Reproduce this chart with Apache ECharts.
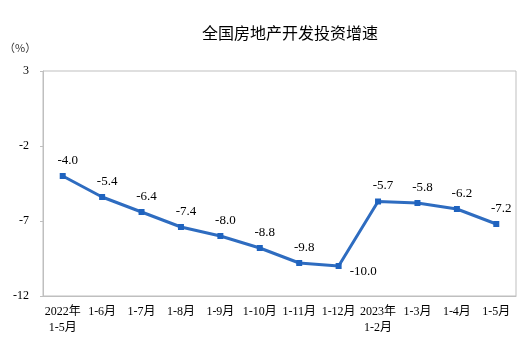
<!DOCTYPE html>
<html><head><meta charset="utf-8">
<script src="https://cdn.jsdelivr.net/npm/echarts@6/dist/echarts.min.js"></script>
<style>html,body{margin:0;padding:0;background:#fff}#c{width:531px;height:349px}</style>
</head><body><div id="c"></div>
<script>
const titleText = '全国房地产开发投资增速';
const unitLabel = '（%）';
const categories = ['2022年\n1-5月','1-6月','1-7月','1-8月','1-9月','1-10月','1-11月','1-12月','2023年\n1-2月','1-3月','1-4月','1-5月'];
const values = [-4.0,-5.4,-6.4,-7.4,-8.0,-8.8,-9.8,-10.0,-5.7,-5.8,-6.2,-7.2];
const yTicks = [-12,-7,-2,3];

const serif = '"Liberation Serif","Noto Sans CJK SC",serif';
const chart = echarts.init(document.getElementById('c'));
const seriesData = values.map((v,i)=>{
  const d = {value: v};
  if (i === 7) d.label = {position: 'right', offset: [2, 6]};
  return d;
});
chart.setOption({
  animation: false,
  title: {text: titleText, left: 285, top: 20, textAlign: 'center',
    textStyle: {fontFamily: '"Noto Sans CJK SC",sans-serif', fontSize: 16, fontWeight: 'normal', color: '#000'}},
  graphic: [{type: 'text', left: 4, top: 42, style: {text: unitLabel, font: '11px "Noto Sans CJK SC"', fill: '#333'}}],
  grid: {left: 43, right: 15, top: 71, bottom: 53, show: true, borderColor: '#bfbfbf', borderWidth: 1},
  xAxis: {type: 'category', data: categories, boundaryGap: true,
    axisLine: {onZero: false, lineStyle: {color: '#bfbfbf'}},
    axisTick: {inside: true, length: 4, lineStyle: {color: '#bfbfbf'}},
    axisLabel: {interval: 0, color: '#000', fontFamily: serif, fontSize: 12, lineHeight: 16, margin: 8}},
  yAxis: {type: 'value', min: yTicks[0], max: yTicks[yTicks.length-1], interval: 5,
    splitLine: {show: false},
    axisLine: {show: true, lineStyle: {color: '#bfbfbf'}},
    axisTick: {show: true, length: 3, lineStyle: {color: '#bfbfbf'}},
    axisLabel: {color: '#000', fontFamily: serif, fontSize: 12, margin: 14}},
  series: [{type: 'line', data: seriesData, symbol: 'rect', symbolSize: 6,
    itemStyle: {color: '#1f63bf'}, lineStyle: {color: '#2e6cc0', width: 3},
    label: {show: true, position: 'top', distance: 6, offset: [5, 0], color: '#000',
      fontFamily: serif, fontSize: 13, formatter: p => p.value.toFixed(1)}}]
});
</script></body></html>
